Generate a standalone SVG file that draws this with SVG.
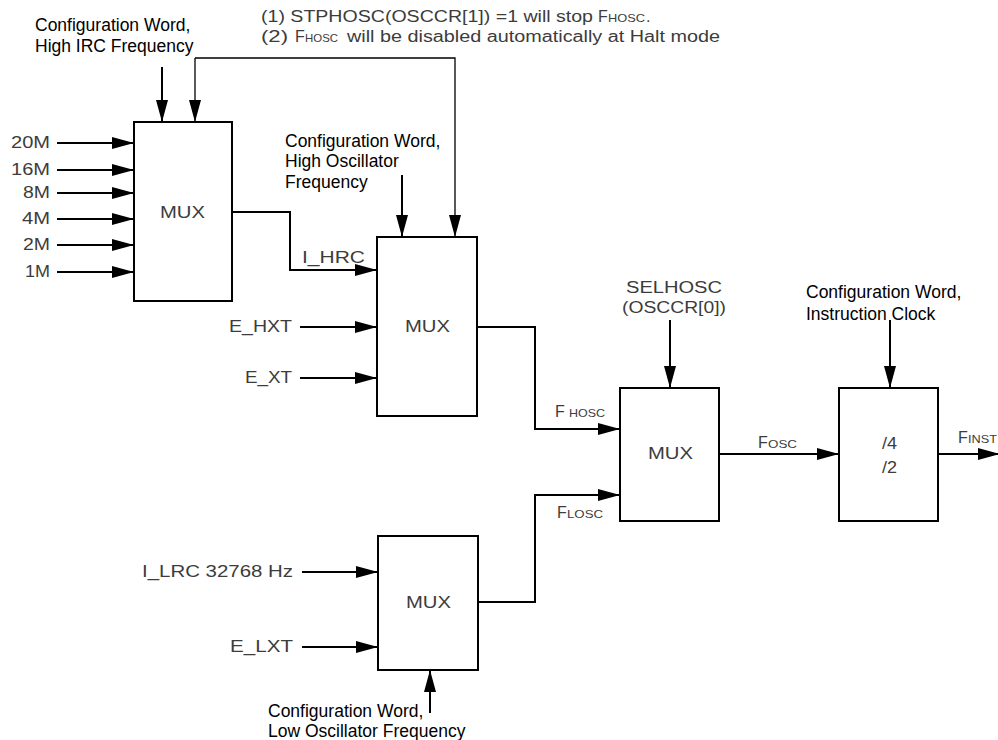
<svg xmlns="http://www.w3.org/2000/svg" width="998" height="740" viewBox="0 0 998 740">
<style>
.bg{fill:#fff}
.box{fill:#fff;stroke:#000;stroke-width:2}
.w{fill:none;stroke:#000;stroke-width:2}
.thin{fill:none;stroke:#000;stroke-width:1.3}
.lbl{font-family:"Liberation Sans",Arial,sans-serif;font-size:16px;fill:#3c3c3c}
.sub{font-family:"Liberation Sans",Arial,sans-serif;font-size:10.5px;fill:#3c3c3c}
.cw{font-family:"Liberation Sans",Arial,sans-serif;font-size:17.5px;fill:#000}
</style>
<defs>
<marker id="ah" markerUnits="userSpaceOnUse" markerWidth="22" markerHeight="12" refX="22" refY="6" orient="auto">
<path d="M0,0 L22,6 L0,12 z" fill="#000"/>
</marker>
</defs>
<rect class="bg" x="0" y="0" width="998" height="740"/>

<g id="notes">
<text class="lbl" x="261" y="22" textLength="332" lengthAdjust="spacingAndGlyphs">(1) STPHOSC(OSCCR[1]) =1 will stop</text>
<text class="lbl" x="598" y="22">F</text>
<text class="sub" x="608" y="22" textLength="37" lengthAdjust="spacingAndGlyphs">HOSC</text>
<text class="lbl" x="646" y="22">.</text>
<text class="lbl" x="261" y="42" textLength="27" lengthAdjust="spacingAndGlyphs">(2)</text>
<text class="lbl" x="295" y="42">F</text>
<text class="sub" x="305" y="42" textLength="33" lengthAdjust="spacingAndGlyphs">HOSC</text>
<text class="lbl" x="347" y="42" textLength="373" lengthAdjust="spacingAndGlyphs">will be disabled automatically at Halt mode</text>
</g>

<g id="cw-hirc">
<text class="cw" x="35" y="31">Configuration Word,</text>
<text class="cw" x="35" y="52">High IRC Frequency</text>
</g>
<g id="cw-hosc">
<text class="cw" x="285" y="147">Configuration Word,</text>
<text class="cw" x="285" y="167">High Oscillator</text>
<text class="cw" x="285" y="188">Frequency</text>
</g>
<g id="cw-inst">
<text class="cw" x="806" y="298">Configuration Word,</text>
<text class="cw" x="806" y="320">Instruction Clock</text>
</g>
<g id="cw-losc">
<text class="cw" x="268" y="717">Configuration Word,</text>
<text class="cw" x="268" y="737">Low Oscillator Frequency</text>
</g>

<g id="inputs">
<text class="lbl" x="11" y="148" textLength="39" lengthAdjust="spacingAndGlyphs">20M</text>
<text class="lbl" x="11" y="175" textLength="39" lengthAdjust="spacingAndGlyphs">16M</text>
<text class="lbl" x="23" y="198" textLength="27" lengthAdjust="spacingAndGlyphs">8M</text>
<text class="lbl" x="22" y="224" textLength="28" lengthAdjust="spacingAndGlyphs">4M</text>
<text class="lbl" x="23" y="250" textLength="27" lengthAdjust="spacingAndGlyphs">2M</text>
<text class="lbl" x="25" y="277" textLength="25" lengthAdjust="spacingAndGlyphs">1M</text>
<text class="lbl" x="302" y="263" textLength="63" lengthAdjust="spacingAndGlyphs">I_HRC</text>
<text class="lbl" x="229" y="332" textLength="63" lengthAdjust="spacingAndGlyphs">E_HXT</text>
<text class="lbl" x="245" y="383" textLength="47" lengthAdjust="spacingAndGlyphs">E_XT</text>
<text class="lbl" x="142" y="577" textLength="151" lengthAdjust="spacingAndGlyphs">I_LRC 32768  Hz</text>
<text class="lbl" x="230" y="652" textLength="63" lengthAdjust="spacingAndGlyphs">E_LXT</text>
<text class="lbl" x="626" y="293" textLength="96" lengthAdjust="spacingAndGlyphs">SELHOSC</text>
<text class="lbl" x="622" y="313" textLength="104" lengthAdjust="spacingAndGlyphs">(OSCCR[0])</text>
<text class="lbl" x="555" y="417">F</text>
<text class="sub" x="569" y="417" textLength="36" lengthAdjust="spacingAndGlyphs">HOSC</text>
<text class="lbl" x="557" y="518">F</text>
<text class="sub" x="567" y="518" textLength="36" lengthAdjust="spacingAndGlyphs">LOSC</text>
<text class="lbl" x="758" y="448">F</text>
<text class="sub" x="768" y="448" textLength="29" lengthAdjust="spacingAndGlyphs">OSC</text>
<text class="lbl" x="958" y="443">F</text>
<text class="sub" x="968" y="443" textLength="29" lengthAdjust="spacingAndGlyphs">INST</text>
</g>

<g id="connectors">
<path class="w" d="M57,143 H134" marker-end="url(#ah)"/>
<path class="w" d="M57,170 H134" marker-end="url(#ah)"/>
<path class="w" d="M57,193 H134" marker-end="url(#ah)"/>
<path class="w" d="M57,219 H134" marker-end="url(#ah)"/>
<path class="w" d="M57,245 H134" marker-end="url(#ah)"/>
<path class="w" d="M57,272 H134" marker-end="url(#ah)"/>
<path class="w" d="M162,67 V122" marker-end="url(#ah)"/>
<path class="thin" d="M195,58 V122" marker-end="url(#ah)"/>
<path class="thin" d="M195,58 H455 V237" marker-end="url(#ah)"/>
<path class="w" d="M232,212 H290 V270 H377" marker-end="url(#ah)"/>
<path class="w" d="M402,175 V237" marker-end="url(#ah)"/>
<path class="w" d="M300,327 H377" marker-end="url(#ah)"/>
<path class="w" d="M300,378 H377" marker-end="url(#ah)"/>
<path class="w" d="M477,327 H535 V429 H620" marker-end="url(#ah)"/>
<path class="w" d="M670,320 V388" marker-end="url(#ah)"/>
<path class="w" d="M478,602 H535 V495 H620" marker-end="url(#ah)"/>
<path class="w" d="M302,572 H378" marker-end="url(#ah)"/>
<path class="w" d="M302,647 H378" marker-end="url(#ah)"/>
<path class="w" d="M430,713 V670" marker-end="url(#ah)"/>
<path class="w" d="M719,454 H839" marker-end="url(#ah)"/>
<path class="w" d="M890,320 V388" marker-end="url(#ah)"/>
<path class="w" d="M938,454 H1000" marker-end="url(#ah)"/>
</g>

<g id="mux-hirc">
<rect class="box" x="134" y="122" width="98" height="179"/>
<text class="lbl" x="160" y="218" textLength="45" lengthAdjust="spacingAndGlyphs">MUX</text>
</g>
<g id="mux-high">
<rect class="box" x="377" y="237" width="100" height="179"/>
<text class="lbl" x="405" y="332" textLength="45" lengthAdjust="spacingAndGlyphs">MUX</text>
</g>
<g id="mux-low">
<rect class="box" x="378" y="536" width="100" height="134"/>
<text class="lbl" x="406" y="608" textLength="45" lengthAdjust="spacingAndGlyphs">MUX</text>
</g>
<g id="mux-sel">
<rect class="box" x="620" y="388" width="99" height="133"/>
<text class="lbl" x="648" y="459" textLength="45" lengthAdjust="spacingAndGlyphs">MUX</text>
</g>
<g id="divider">
<rect class="box" x="839" y="388" width="99" height="133"/>
<text class="lbl" x="882" y="449" textLength="15" lengthAdjust="spacingAndGlyphs">/4</text>
<text class="lbl" x="882" y="473" textLength="15" lengthAdjust="spacingAndGlyphs">/2</text>
</g>
</svg>
